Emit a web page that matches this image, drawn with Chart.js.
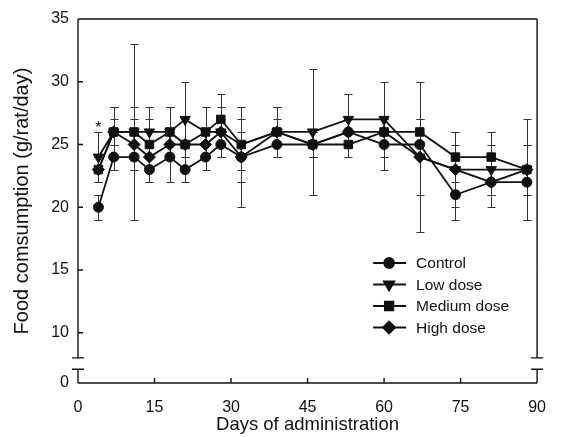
<!DOCTYPE html>
<html>
<head>
<meta charset="utf-8">
<script src="https://cdn.jsdelivr.net/npm/chart.js@4.4.1/dist/chart.umd.min.js"></script>
<style>
  html, body { margin: 0; padding: 0; background: #fff; }
</style>
</head>
<body>
<canvas id="chart" width="561" height="437"></canvas>
<script>
// Data
const days = [4, 7, 11, 14, 18, 21, 25, 28, 32, 39, 46, 53, 60, 67, 74, 81, 88];

const control = [20, 24, 24, 23, 24, 23, 24, 25, 24, 25, 25, 26, 25, 25, 21, 22, 22];
const lowDose = [24, 26, 26, 26, 26, 27, 26, 26, 25, 26, 26, 27, 27, 24, 23, 23, 23];
const mediumDose = [23, 26, 26, 25, 26, 25, 26, 27, 25, 26, 25, 25, 26, 26, 24, 24, 23];
const highDose = [23, 26, 25, 24, 25, 25, 25, 26, 24, 26, 25, 26, 26, 24, 23, 22, 23];

// SD (half-length of error bars)
const controlErr = [1, 1, 1, 1, 2, 1, 1, 1, 4, 1, 1, 1, 2, 1, 2, 2, 3];
const lowErr = [2, 2, 2, 2, 2, 3, 2, 2, 3, 2, 5, 2, 3, 3, 2, 2, 4];
const mediumErr = [1, 1, 7, 2, 2, 2, 2, 2, 2, 2, 1, 1, 1, 1, 2, 2, 2];
const highErr = [1, 2, 2, 2, 1, 2, 1, 1, 2, 1, 1, 1, 1, 6, 3, 1, 2];

const xTicks = [0, 15, 30, 45, 60, 75, 90];
const yTicks = [0, 10, 15, 20, 25, 30, 35];

// significance mark: day index 0, low dose
const sigMarks = [{ index: 0, series: 'Low dose', text: '*' }];

// broken y axis: value 0 is drawn at Y_BASE, the axis is cut between BREAK_LO and BREAK_HI
const Y_BASE = 6;
const BREAK_LO = 7.1;
const BREAK_HI = 8.0;

const FONT = '"Liberation Sans", Arial, sans-serif';
const INK = '#111';

// Plugin: error bars, frame with break, ticks, legend, asterisk
const framePlugin = {
    id: 'frame',
    beforeDatasetsDraw(chart) {
        const ctx = chart.ctx;
        const xs = chart.scales.x, ys = chart.scales.y;
        ctx.save();
        ctx.strokeStyle = '#333';
        ctx.lineWidth = 1;
        chart.data.datasets.forEach(ds => {
            ds.values.forEach((v, i) => {
                const e = ds.errors[i];
                const px = Math.round(xs.getPixelForValue(days[i])) + 0.5;
                const y1 = Math.round(ys.getPixelForValue(v + e)) + 0.5;
                const y2 = Math.round(ys.getPixelForValue(v - e)) + 0.5;
                ctx.beginPath();
                ctx.moveTo(px, y1); ctx.lineTo(px, y2);
                ctx.moveTo(px - 4, y1); ctx.lineTo(px + 4, y1);
                ctx.moveTo(px - 4, y2); ctx.lineTo(px + 4, y2);
                ctx.stroke();
            });
        });
        ctx.restore();
    },
    afterDraw(chart) {
        const ctx = chart.ctx;
        const ca = chart.chartArea;
        const xs = chart.scales.x, ys = chart.scales.y;
        const yb1 = ys.getPixelForValue(BREAK_HI);
        const yb2 = ys.getPixelForValue(BREAK_LO);

        ctx.save();
        ctx.strokeStyle = INK;
        ctx.lineWidth = 1.4;
        ctx.beginPath();
        // top and bottom
        ctx.moveTo(ca.left, ca.top); ctx.lineTo(ca.right, ca.top);
        ctx.moveTo(ca.left, ca.bottom); ctx.lineTo(ca.right, ca.bottom);
        // left and right with break
        [ca.left, ca.right].forEach(x => {
            ctx.moveTo(x, ca.top); ctx.lineTo(x, yb1);
            ctx.moveTo(x, yb2); ctx.lineTo(x, ca.bottom);
            ctx.moveTo(x - 6, yb1); ctx.lineTo(x + 6, yb1);
            ctx.moveTo(x - 6, yb2); ctx.lineTo(x + 6, yb2);
        });
        // inward ticks
        xTicks.forEach(t => {
            const px = xs.getPixelForValue(t);
            ctx.moveTo(px, ca.bottom); ctx.lineTo(px, ca.bottom - 5);
        });
        yTicks.forEach(t => {
            if (t === 0) return;
            const py = ys.getPixelForValue(t);
            ctx.moveTo(ca.left, py); ctx.lineTo(ca.left + 5, py);
        });
        ctx.stroke();

        // asterisk
        ctx.fillStyle = INK;
        ctx.font = '16px ' + FONT;
        ctx.textAlign = 'center';
        ctx.textBaseline = 'middle';
        sigMarks.forEach(m => {
            const ds = chart.data.datasets.find(d => d.label === m.series);
            const v = ds.values[m.index] + ds.errors[m.index];
            ctx.fillText(m.text, xs.getPixelForValue(days[m.index]), ys.getPixelForValue(v) - 3);
        });

        // legend
        const order = ['Control', 'Low dose', 'Medium dose', 'High dose'];
        const lx = ca.right - 164;
        let ly = ca.bottom - 120;
        ctx.font = '15.5px ' + FONT;
        ctx.textAlign = 'left';
        order.forEach(name => {
            const ds = chart.data.datasets.find(d => d.label === name);
            ctx.lineWidth = 1.8;
            ctx.beginPath();
            ctx.moveTo(lx, ly); ctx.lineTo(lx + 33, ly);
            ctx.stroke();
            Chart.helpers.drawPoint(ctx, {
                pointStyle: ds.pointStyle,
                radius: ds.pointRadius,
                rotation: ds.pointRotation || 0,
                borderWidth: 1
            }, lx + 16, ly);
            ctx.fillStyle = INK;
            ctx.fillText(name, lx + 43, ly + 1);
            ly += 21.5;
        });
        ctx.restore();
    }
};

function series(label, values, errors, style, radius, rotation) {
    return {
        label: label,
        data: values.map((v, i) => ({ x: days[i], y: v })),
        values: values,
        errors: errors,
        borderColor: INK,
        backgroundColor: INK,
        borderWidth: 1.8,
        pointStyle: style,
        pointRadius: radius,
        pointHoverRadius: radius,
        pointRotation: rotation,
        pointBackgroundColor: INK,
        pointBorderColor: INK,
        pointBorderWidth: 1,
        tension: 0,
        fill: false
    };
}

new Chart(document.getElementById('chart'), {
    type: 'line',
    data: {
        datasets: [
            series('Control', control, controlErr, 'circle', 5, 0),
            series('Medium dose', mediumDose, mediumErr, 'rect', 6, 0),
            series('High dose', highDose, highErr, 'rectRot', 6, 0),
            series('Low dose', lowDose, lowErr, 'triangle', 6, 180)
        ]
    },
    options: {
        responsive: false,
        animation: false,
        events: [],
        layout: { padding: { top: 19, right: 11, left: 0, bottom: 0 } },
        plugins: {
            legend: { display: false },
            tooltip: { enabled: false }
        },
        scales: {
            x: {
                type: 'linear',
                min: 0,
                max: 90,
                afterBuildTicks: s => { s.ticks = xTicks.map(v => ({ value: v })); },
                afterFit: s => { s.height = 54; },
                grid: { display: false, drawTicks: false },
                border: { display: false },
                ticks: {
                    color: INK,
                    font: { family: FONT, size: 16 },
                    padding: 15,
                    maxRotation: 0
                },
                title: {
                    display: true,
                    text: 'Days of administration',
                    color: INK,
                    font: { family: FONT, size: 18.5 },
                    padding: { top: 0, bottom: 1 }
                }
            },
            y: {
                min: Y_BASE,
                max: 35,
                afterBuildTicks: s => { s.ticks = yTicks.map(v => ({ value: v === 0 ? Y_BASE : v })); },
                afterFit: s => { s.width = 78; },
                grid: { display: false, drawTicks: false },
                border: { display: false },
                ticks: {
                    color: INK,
                    font: { family: FONT, size: 16 },
                    padding: 9,
                    callback: v => (v === Y_BASE ? '0' : v)
                },
                title: {
                    display: true,
                    text: 'Food comsumption (g/rat/day)',
                    color: INK,
                    font: { family: FONT, size: 20 },
                    padding: { top: 10, bottom: 0 }
                }
            }
        }
    },
    plugins: [framePlugin]
});
</script>
</body>
</html>
